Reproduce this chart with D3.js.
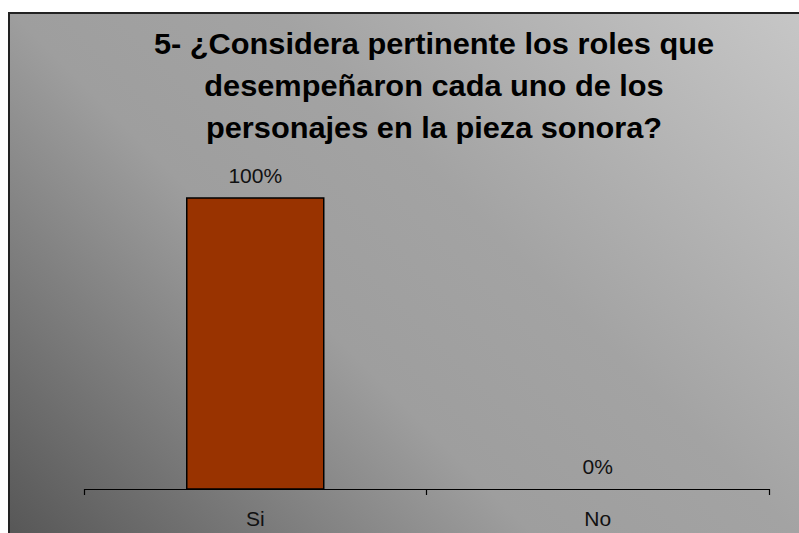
<!DOCTYPE html>
<html>
<head>
<meta charset="utf-8">
<script src="https://cdn.jsdelivr.net/npm/d3@7"></script>
<style>
  html, body { margin: 0; padding: 0; background: #fff; }
  svg { display: block; }
</style>
</head>
<body>
<svg id="chart" width="799" height="533"></svg>
<script>
// datos del grafico
var categories = ['Si', 'No'];
var values = [100, 0];
var valueLabels = ['100%', '0%'];
var titleLines = [
  '5- ¿Considera pertinente los roles que',
  'desempeñaron cada uno de los',
  'personajes en la pieza sonora?'
];

var W = 799, H = 533;
var svg = d3.select('#chart');

// fondo degradado (oscuro abajo-izq, claro arriba-der)
var defs = svg.append('defs');
var grad = defs.append('linearGradient')
  .attr('id', 'bg')
  .attr('gradientUnits', 'userSpaceOnUse')
  .attr('x1', 9).attr('y1', 533)
  .attr('x2', 663).attr('y2', -121);
grad.append('stop').attr('offset', 0).attr('stop-color', '#575757');
grad.append('stop').attr('offset', 0.4).attr('stop-color', '#9e9e9e');
grad.append('stop').attr('offset', 0.6).attr('stop-color', '#a3a3a3');
grad.append('stop').attr('offset', 1).attr('stop-color', '#c6c6c6');

svg.append('rect')
  .attr('x', 9).attr('y', 13)
  .attr('width', W).attr('height', H)
  .attr('fill', 'url(#bg)')
  .attr('stroke', '#222')
  .attr('stroke-width', 2);

// titulo
var title = svg.append('g')
  .attr('transform', 'translate(434,0) scale(1.025,1)');
title.selectAll('text')
  .data(titleLines)
  .enter().append('text')
  .attr('x', 0)
  .attr('y', function(d, i){ return 54 + i * 42; })
  .attr('text-anchor', 'middle')
  .attr('font-family', 'Liberation Sans, Arial, sans-serif')
  .attr('font-weight', 'bold')
  .attr('font-size', 30)
  .attr('fill', '#000')
  .text(function(d){ return d; });

// escalas
var x = d3.scaleBand()
  .domain(categories)
  .range([84, 769])
  .padding(0);

var y = d3.scaleLinear()
  .domain([0, 100])
  .range([489, 198]);

var barW = x.bandwidth() * 0.4;

// barras
svg.selectAll('.bar')
  .data(values)
  .enter().append('rect')
  .attr('class', 'bar')
  .attr('x', function(d, i){ return x(categories[i]) + (x.bandwidth() - barW) / 2; })
  .attr('y', function(d){ return y(d); })
  .attr('width', barW)
  .attr('height', function(d){ return y(0) - y(d); })
  .attr('fill', '#993300')
  .attr('stroke', '#000')
  .attr('stroke-width', 1.5);

// eje x
var xAxis = d3.axisBottom(x)
  .tickSizeInner(0)
  .tickSizeOuter(6)
  .tickPadding(22);

var gX = svg.append('g')
  .attr('transform', 'translate(0,' + y(0) + ')')
  .call(xAxis);
gX.select('.domain').attr('stroke', '#000').attr('stroke-width', 1.2);
gX.selectAll('.tick text')
  .attr('font-family', 'Liberation Sans, Arial, sans-serif')
  .attr('font-size', 21)
  .attr('fill', '#111');

// marca entre categorias
gX.selectAll('.sep')
  .data(categories.slice(1))
  .enter().append('line')
  .attr('class', 'sep')
  .attr('x1', function(d){ return x(d); })
  .attr('x2', function(d){ return x(d); })
  .attr('y1', 0).attr('y2', 6)
  .attr('stroke', '#000')
  .attr('stroke-width', 1.2);

// etiquetas de valor
svg.selectAll('.lbl')
  .data(values)
  .enter().append('text')
  .attr('class', 'lbl')
  .attr('x', function(d, i){ return x(categories[i]) + x.bandwidth() / 2; })
  .attr('y', function(d){ return y(d) - 15; })
  .attr('text-anchor', 'middle')
  .attr('font-family', 'Liberation Sans, Arial, sans-serif')
  .attr('font-size', 21)
  .attr('fill', '#111')
  .text(function(d, i){ return valueLabels[i]; });
</script>
</body>
</html>
